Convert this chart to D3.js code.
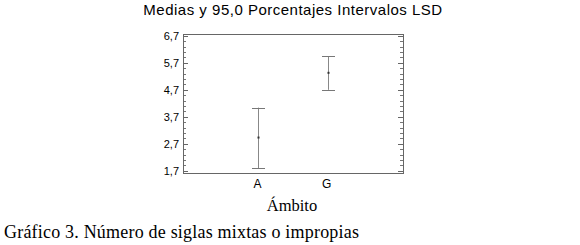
<!DOCTYPE html>
<html lang="en">
<head>
<meta charset="utf-8">
<title>Medias LSD</title>
<script src="https://d3js.org/d3.v7.min.js"></script>
<style>
  body { margin: 0; background: #fff; }
</style>
</head>
<body>
<script>
  var categories = ["A", "G"]
  var means = [2.93, 5.33]
  var lower = [1.79, 4.70]
  var upper = [4.04, 5.94]
  var yTicks = [1.7, 2.7, 3.7, 4.7, 5.7, 6.7]

  var width = 580, height = 245
  var pl = 183, pr = 403, pt = 34, pb = 173

  var svg = d3.select("body").append("svg")
    .attr("width", width)
    .attr("height", height)

  var x = d3.scalePoint()
    .domain(categories)
    .range([pl, pr])
    .padding(1.09)

  var y = d3.scaleLinear()
    .domain([1.615, 6.77])
    .range([pb, pt])

  // minor ticks every 0.2
  var minor = d3.range(1.7, 6.75, 0.2).map(function(d){ return +d.toFixed(1) })
  var py = function(d){ return Math.round(y(d)) + 0.5 }

  var g = svg.append("g")

  g.selectAll("line.minorL")
    .data(minor)
    .enter().append("line")
    .attr("x1", pl).attr("x2", pl + 3)
    .attr("y1", py).attr("y2", py)
    .attr("stroke", "#777")

  g.selectAll("line.minorR")
    .data(minor)
    .enter().append("line")
    .attr("x1", pr - 3).attr("x2", pr)
    .attr("y1", py).attr("y2", py)
    .attr("stroke", "#777")

  g.selectAll("line.majorL")
    .data(yTicks)
    .enter().append("line")
    .attr("x1", pl).attr("x2", pl + 5)
    .attr("y1", py).attr("y2", py)
    .attr("stroke", "#666")

  g.selectAll("line.majorR")
    .data(yTicks)
    .enter().append("line")
    .attr("x1", pr - 5).attr("x2", pr)
    .attr("y1", py).attr("y2", py)
    .attr("stroke", "#666")

  g.selectAll("text.ytick")
    .data(yTicks)
    .enter().append("text")
    .attr("x", pl - 4)
    .attr("y", function(d){ return y(d) })
    .attr("dy", "0.35em")
    .attr("text-anchor", "end")
    .style("font-family", "Liberation Sans, Arial, sans-serif")
    .style("font-size", "11px")
    .text(function(d){ return d.toFixed(1).replace(".", ",") })

  // frame
  svg.append("rect")
    .attr("x", pl + 0.5).attr("y", pt + 0.5)
    .attr("width", pr - pl).attr("height", pb - pt)
    .attr("fill", "none")
    .attr("stroke", "#666")

  svg.selectAll("text.xtick")
    .data(categories)
    .enter().append("text")
    .attr("x", function(d){ return x(d) - 1 })
    .attr("y", pb + 15)
    .attr("text-anchor", "middle")
    .style("font-family", "Liberation Sans, Arial, sans-serif")
    .style("font-size", "12px")
    .text(function(d){ return d })

  // error bars
  var bars = svg.append("g").selectAll("g")
    .data(categories)
    .enter().append("g")

  bars.append("line")
    .attr("x1", function(d){ return Math.round(x(d)) + 0.5 })
    .attr("x2", function(d){ return Math.round(x(d)) + 0.5 })
    .attr("y1", function(d, i){ return y(upper[i]) })
    .attr("y2", function(d, i){ return y(lower[i]) })
    .attr("stroke", "#888")

  bars.append("line")
    .attr("x1", function(d){ return Math.round(x(d)) - 6 })
    .attr("x2", function(d){ return Math.round(x(d)) + 7 })
    .attr("y1", function(d, i){ return py(upper[i]) })
    .attr("y2", function(d, i){ return py(upper[i]) })
    .attr("stroke", "#777")

  bars.append("line")
    .attr("x1", function(d){ return Math.round(x(d)) - 6 })
    .attr("x2", function(d){ return Math.round(x(d)) + 7 })
    .attr("y1", function(d, i){ return py(lower[i]) })
    .attr("y2", function(d, i){ return py(lower[i]) })
    .attr("stroke", "#777")

  bars.append("rect")
    .attr("x", function(d){ return Math.round(x(d)) - 0.5 })
    .attr("y", function(d, i){ return y(means[i]) - 1 })
    .attr("width", 2).attr("height", 2)
    .attr("fill", "#333")

  svg.append("text")
    .attr("x", 293).attr("y", 15)
    .attr("text-anchor", "middle")
    .style("font-family", "Liberation Sans, Arial, sans-serif")
    .style("font-size", "15px")
    .style("letter-spacing", "0.5px")
    .text("Medias y 95,0 Porcentajes Intervalos LSD")

  svg.append("text")
    .attr("x", 292).attr("y", 211)
    .attr("text-anchor", "middle")
    .style("font-family", "Liberation Serif, serif")
    .style("font-size", "16.5px")
    .text("Ámbito")

  svg.append("text")
    .attr("x", 4).attr("y", 238)
    .style("font-family", "Liberation Serif, serif")
    .style("font-size", "18px")
    .style("letter-spacing", "0.2px")
    .text("Gráfico 3. Número de siglas mixtas o impropias")
</script>
</body>
</html>
